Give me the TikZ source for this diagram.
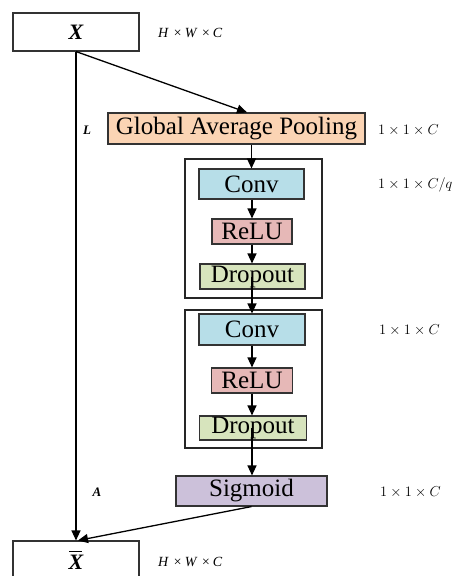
\documentclass[tikz,border=0pt]{standalone}
\usepackage{fontspec}
\setmainfont{Liberation Serif}
\usetikzlibrary{arrows.meta}
\definecolor{gapc}{HTML}{FBD4B4}
\definecolor{convc}{HTML}{B7DEE8}
\definecolor{reluc}{HTML}{E6B8B7}
\definecolor{dropc}{HTML}{D7E4BD}
\definecolor{sigc}{HTML}{CCC1DA}
\tikzset{
  blk/.style={draw=black!80, line width=1.1pt, inner sep=0pt, font=\fontsize{25}{28}\selectfont},
  xbox/.style={draw=black!80, line width=1.1pt, inner sep=0pt, minimum width=126pt, minimum height=38pt, font=\fontsize{22}{24}\selectfont\bfseries\itshape},
  frame/.style={draw=black!85, line width=1.1pt},
  arr/.style={line width=1.3pt, -{Triangle[length=10pt,width=9pt]}},
  dimlab/.style={inner sep=0pt, anchor=west, font=\fontsize{14}{16}\selectfont},
  mathlab/.style={inner sep=0pt, anchor=west, font=\fontsize{14}{16}\selectfont},
  sidelab/.style={inner sep=0pt, font=\fontsize{13}{15}\selectfont\bfseries\itshape}
}
\begin{document}
\begin{tikzpicture}[x=1pt,y=-1pt]
\useasboundingbox (0,0) rectangle (457,576);
% outer frames
\draw[frame] (185,159) rectangle (322,298);
\draw[frame] (185,310) rectangle (322,448);
% nodes
\node[xbox] (X) at (76,32) {X};
\node[xbox] (Xb) at (76,560) {\rlap{\kern0.5pt\rule[17pt]{13pt}{1.3pt}}X};
\node[blk, fill=gapc, minimum width=257pt, minimum height=31pt] (gap) at (236.5,128.5) {Global Average Pooling};
\node[blk, fill=convc, minimum width=105pt, minimum height=30pt] (conv1) at (251.5,184) {Conv};
\node[blk, fill=reluc, minimum width=80pt, minimum height=25pt] (relu1) at (252,231.5) {ReLU};
\node[blk, fill=dropc, minimum width=105pt, minimum height=25pt] (drop1) at (252.5,276.5) {Dropout};
\node[blk, fill=convc, minimum width=106pt, minimum height=31pt] (conv2) at (252,329.5) {Conv};
\node[blk, fill=reluc, minimum width=81pt, minimum height=25pt] (relu2) at (252,380.5) {ReLU};
\node[blk, fill=dropc, minimum width=107pt, minimum height=24pt] (drop2) at (253,428) {Dropout};
\node[blk, fill=sigc, minimum width=151pt, minimum height=30pt] (sig) at (251.5,491) {Sigmoid};
% labels
\node[dimlab] (d1) at (158,33) {\itshape H\,\,×\,W\,\,×\,C};
\node[dimlab] (d2) at (158,562) {\itshape H\,\,×\,W\,\,×\,C};
\node[mathlab] (m1) at (378,130) {$1\times1\times C$};
\node[mathlab] (m2) at (378,185) {$1\times1\times C/q$};
\node[mathlab] (m3) at (379,330) {$1\times1\times C$};
\node[mathlab] (m4) at (380,492) {$1\times1\times C$};
\node[sidelab] (L) at (87,130) {L};
\node[sidelab] (A) at (97,492) {A};
% connectors
\draw[arr] (X.south) -- ([xshift=10.5pt]gap.north);
\draw[arr] (X.south) -- (Xb.north);
\draw[arr] (conv1.north |- gap.south) -- (conv1.north);
\draw[arr] (conv1.south -| relu1.north) -- (relu1.north);
\draw[arr] (relu1.south) -- (relu1.south |- drop1.north);
\draw[arr] (relu1.south |- drop1.center) -- (relu1.south |- conv2.north);
\draw[arr] (relu2.north |- conv2.south) -- (relu2.north);
\draw[arr] (relu2.south) -- (relu2.south |- drop2.north);
\draw[arr] (relu2.south |- drop2.center) -- (relu2.south |- sig.north);
\draw[arr] (sig.south) -- ([xshift=2pt]Xb.north);
\end{tikzpicture}
\end{document}
